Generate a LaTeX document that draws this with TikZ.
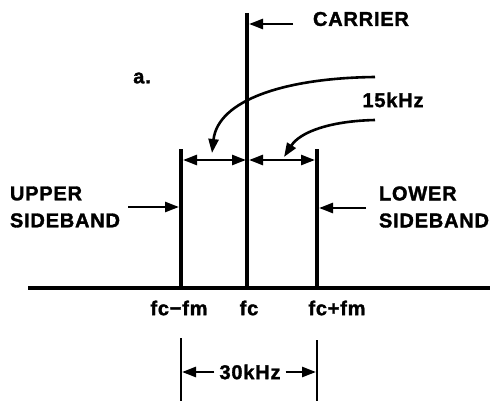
\documentclass[tikz,border=0pt]{standalone}
\usepackage{fontspec}
\setmainfont{Liberation Sans}[UprightFont={* Bold},LetterSpace=4,FakeBold=1.6]
\usetikzlibrary{arrows.meta}
\begin{document}
\begin{tikzpicture}[x=1pt,y=-1pt,
  heavy/.style={line width=3.8pt},
  arr/.style={line width=2.6pt,-{Triangle[length=14pt,width=10pt]}},
  dim/.style={line width=2.6pt,{Triangle[length=14pt,width=10pt]}-{Triangle[length=14pt,width=10pt]}},
  lbl/.style={font=\fontsize{20}{27}\selectfont,inner sep=0pt,align=left}]
\useasboundingbox (0,0) rectangle (492,401);
% coordinates
\coordinate (base0) at (28,288);
\coordinate (base1) at (490,288);
\coordinate (ctop) at (247,13);
\coordinate (cbot) at (247,288);
\coordinate (ltop) at (181,149);
\coordinate (lbot) at (181,288);
\coordinate (rtop) at (317,149);
\coordinate (rbot) at (317,288);
\coordinate (dl) at (183,160);
\coordinate (dc1) at (246,160);
\coordinate (dc2) at (249,160);
\coordinate (dr) at (315,160);
% lines
\draw[heavy] (base0) -- (base1);
\draw[heavy] (ctop) -- (cbot);
\draw[heavy] (ltop) -- (lbot);
\draw[heavy] (rtop) -- (rbot);
% texts
\node[lbl] (carrier) at (361,19) {CARRIER};
\node[lbl] (a) at (142,78) {a.};
\node[lbl] (khz15) at (393,100) {15kHz};
\node[lbl] (upper) at (65,207) {UPPER\\SIDEBAND};
\node[lbl] (lower) at (434,207) {LOWER\\SIDEBAND};
\node[lbl] (fcm) at (179,308) {fc−fm};
\node[lbl] (fc) at (249,308) {fc};
\node[lbl] (fcp) at (337,308) {fc+fm};
\node[lbl] (khz30) at (250,372) {30kHz};
% arrows
\coordinate (carS) at (293,24);
\coordinate (carE) at (249,24);
\draw[arr] (carS) -- (carE);
\coordinate (c1s) at (375,77);
\coordinate (c1e) at (212,153);
\draw[arr] (c1s) .. controls (285,78) and (218,100) .. (c1e);
\coordinate (c2s) at (375,120);
\coordinate (c2e) at (284,157);
\draw[arr] (c2s) .. controls (330,121) and (300,132) .. (c2e);
\draw[dim] (dl) -- (dc1);
\draw[dim] (dc2) -- (dr);
\coordinate (uS) at (128,207);
\coordinate (uE) at (179,207);
\draw[arr] (uS) -- (uE);
\coordinate (lS) at (366,208);
\coordinate (lE) at (319,208);
\draw[arr] (lS) -- (lE);
% bottom dimension
\coordinate (bl0) at (181,338);
\coordinate (bl1) at (181,401);
\coordinate (br0) at (317,340);
\coordinate (br1) at (317,401);
\draw[line width=2.4pt] (bl0) -- (bl1);
\draw[line width=2.4pt] (br0) -- (br1);
\coordinate (a30l) at (182,372);
\coordinate (a30r) at (316,372);
\draw[arr] (khz30.west) ++(-5,0) -- (a30l);
\draw[arr] (khz30.east) ++(5,0) -- (a30r);
\end{tikzpicture}
\end{document}
